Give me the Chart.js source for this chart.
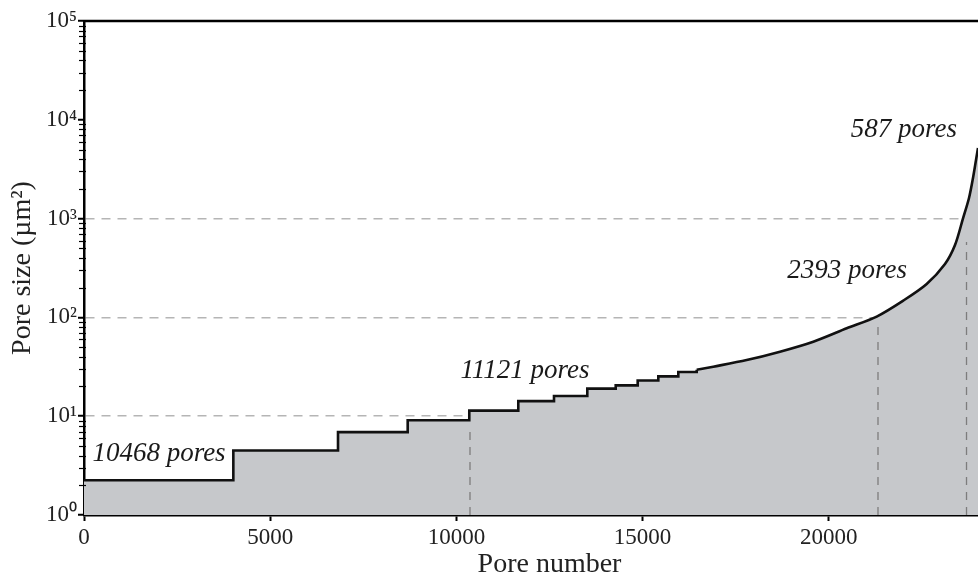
<!DOCTYPE html>
<html><head><meta charset="utf-8">
<script src="https://cdn.jsdelivr.net/npm/chart.js@4.4.1/dist/chart.umd.min.js"></script>
<style>
html,body{margin:0;padding:0;overflow:hidden;background:#fff;width:978px;height:579px}
#wrap{width:1040px;height:579px}
</style>
</head><body><div id="wrap"><canvas id="c" width="1040" height="579"></canvas></div>
<script>
// ---- data ----
const stepEdges  = [0, 4010, 6821, 8692, 10346, 11662, 12621, 13515, 14278, 14868, 15422, 15959, 16453];
const stepLevels = [2.25, 4.5, 6.9, 9.1, 11.4, 14.2, 16, 19, 20.5, 23, 25.3, 28];
const curveX = [16453, 16898, 17795, 18690, 19584, 20481, 21286, 22000, 22629, 23120, 23389, 23604, 23765, 23872, 23953, 24006];
const curveY = [29.5, 31.7, 37, 45, 56.8, 77.6, 102, 148, 218, 347, 540, 1005, 1617, 2576, 3918, 5186];
const dividerX   = [10365, 21321, 23698];
const dividerTop = [6.9, 90, 580];
const groupLabels = ['10468 pores', '11121 pores', '2393 pores', '587 pores'];
const groupLabelX = [2014, 11842, 20489, 22019];
const groupLabelY = [3.52, 24.4, 250, 6700];
const xTicks = [0, 5000, 10000, 15000, 20000];
const yMajor = [1, 10, 100, 1000, 10000, 100000];
const guideY = [10, 100, 1000];
const sup = {'0':'⁰','1':'¹','2':'²','3':'³','4':'⁴','5':'⁵'};

// ---- build datasets from arrays ----
const stepPts = [];
for (let i = 0; i < stepLevels.length; i++) {
  stepPts.push({x: stepEdges[i], y: stepLevels[i]});
  stepPts.push({x: stepEdges[i + 1], y: stepLevels[i]});
}
stepPts.push({x: curveX[0], y: curveY[0]});
const curvePts = curveX.map((x, i) => ({x, y: curveY[i]}));
const areaPts = stepPts.concat(curvePts.slice(1));

const FILL = '#c6c8cb';
const datasets = [
  {data: areaPts, borderWidth: 0, borderColor: 'rgba(0,0,0,0)', backgroundColor: FILL, fill: 'start', tension: 0, pointRadius: 0, order: 3},
  {data: stepPts, borderColor: '#111', borderWidth: 2.6, fill: false, tension: 0, pointRadius: 0, order: 1},
  {data: curvePts, borderColor: '#111', borderWidth: 2.6, fill: false, tension: 0.3, pointRadius: 0, order: 1}
];
dividerX.forEach((x, i) => {
  datasets.push({data: [{x, y: 1}, {x, y: dividerTop[i]}], borderColor: '#7d7d7d', borderWidth: 1.3,
    borderDash: [8, 7], fill: false, pointRadius: 0, order: 2});
});

const serif = '"Liberation Serif", "Times New Roman", serif';

const decorPlugin = {
  id: 'decor',
  afterDatasetsDraw(chart) {
    const {ctx, chartArea: a, scales: {x, y}} = chart;
    ctx.save();
    // top frame line
    ctx.strokeStyle = '#000'; ctx.lineWidth = 2.5;
    ctx.beginPath(); ctx.moveTo(a.left - 1, a.top); ctx.lineTo(a.right, a.top); ctx.stroke();
    // minor log ticks on y axis
    ctx.lineWidth = 1.2;
    for (let d = 0; d < yMajor.length - 1; d++) {
      for (let m = 2; m <= 9; m++) {
        const py = Math.round(y.getPixelForValue(yMajor[d] * m)) + 0.5;
        ctx.beginPath(); ctx.moveTo(a.left - 5, py); ctx.lineTo(a.left + 2, py); ctx.stroke();
      }
    }
    // group labels
    ctx.fillStyle = '#1a1a1a';
    ctx.font = 'italic 27px ' + serif;
    ctx.textAlign = 'center'; ctx.textBaseline = 'alphabetic';
    groupLabels.forEach((t, i) => {
      ctx.fillText(t, x.getPixelForValue(groupLabelX[i]), y.getPixelForValue(groupLabelY[i]));
    });
    ctx.restore();
  }
};

new Chart(document.getElementById('c'), {
  type: 'line',
  data: {datasets},
  plugins: [decorPlugin],
  options: {
    responsive: false, animation: false,
    layout: {padding: {top: 21, right: 25, left: 0, bottom: 0}},
    plugins: {legend: {display: false}, tooltip: {enabled: false}},
    scales: {
      x: {
        type: 'linear', min: 0, max: 25000,
        afterBuildTicks: s => { s.ticks = xTicks.map(v => ({value: v})); },
        afterFit: s => { s.height = 64; },
        ticks: {autoSkip: false, maxRotation: 0, padding: 3, color: '#222',
          font: {family: serif, size: 23}, callback: v => String(v)},
        grid: {drawOnChartArea: false, tickLength: 6, tickWidth: 2, tickColor: '#000'},
        border: {display: true, color: '#000', width: 2.5},
        title: {display: true, text: 'Pore number', color: '#222',
          font: {family: serif, size: 28, lineHeight: 1.05}, padding: {top: 0, bottom: 0}}
      },
      y: {
        type: 'logarithmic', min: 1, max: 100000,
        afterBuildTicks: s => { s.ticks = yMajor.map(v => ({value: v})); },
        afterFit: s => { s.width = 84; },
        ticks: {autoSkip: false, padding: 1, color: '#222', font: {family: serif, size: 23},
          callback: v => '10' + sup[String(Math.round(Math.log10(v)))]},
        grid: {drawOnChartArea: true, lineWidth: 1.5, tickLength: 6, tickWidth: 2, tickColor: '#000',
          color: c => (c.tick && guideY.includes(c.tick.value)) ? '#b5b5b5' : 'rgba(0,0,0,0)'},
        border: {display: true, color: '#000', width: 2.5, dash: [9, 7]},
        title: {display: true, text: 'Pore size (µm²)', color: '#222',
          font: {family: serif, size: 28, lineHeight: 1.2}, padding: {top: 6, bottom: 0}}
      }
    }
  }
});
</script>
</body></html>
